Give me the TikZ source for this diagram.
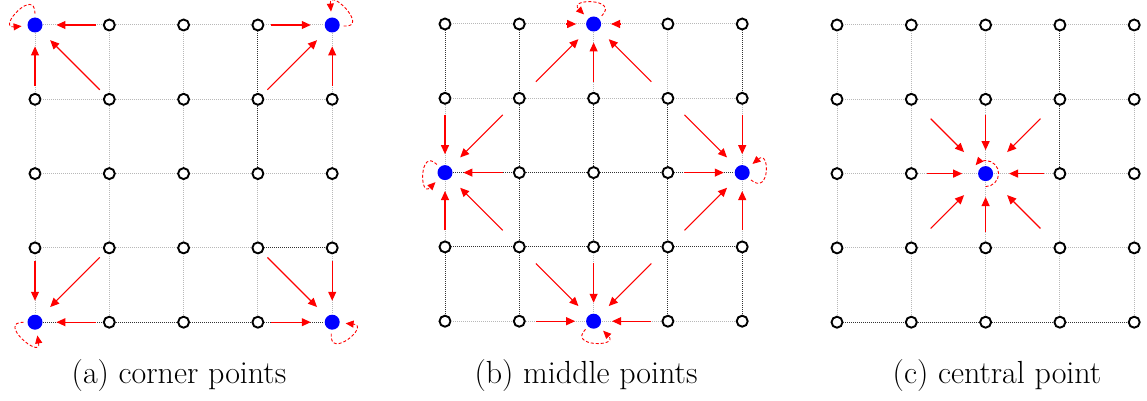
\documentclass[tikz,border=0pt]{standalone}
\usetikzlibrary{arrows.meta}

\tikzset{
  pt/.style={circle, draw=black, line width=1.9pt, fill=white, minimum size=11pt, inner sep=0pt},
  hub/.style={draw=none, fill=blue, minimum size=15pt},
  faint/.style={draw=black!28, line width=1pt, dash pattern=on 1pt off 1pt},
  dark/.style={draw=black!80, line width=1pt, dash pattern=on 1pt off 1pt},
  pull/.style={draw=red, line width=1.1pt, -{Triangle[length=9pt,width=8pt]}, shorten <=7pt, shorten >=13pt},
  selfloop/.style={draw=red, line width=0.9pt, dash pattern=on 3pt off 2pt, -{Triangle[length=8pt,width=7pt]}},
  caption/.style={anchor=base, font=\fontsize{32}{36}\selectfont},
  mk a00/.style={hub}, mk a40/.style={hub}, mk a04/.style={hub}, mk a44/.style={hub},
  mk b20/.style={hub}, mk b02/.style={hub}, mk b42/.style={hub}, mk b24/.style={hub},
  mk c22/.style={hub}
}

\begin{document}
\begin{tikzpicture}[x=1pt,y=1pt]
\useasboundingbox (0,0) rectangle (1147,-401);

% the three 5x5 lattices
\foreach \pan/\ox/\oy in {a/35/25, b/445/24, c/837/25}
  \foreach \i in {0,...,4}
    \foreach \j in {0,...,4}
      \node[pt, mk \pan\i\j/.try] (\pan\i\j) at (\ox+74.3*\i, -\oy-74.3*\j) {};

% dotted lattice lines
\foreach \pan in {a,b,c}
  \foreach \i/\k in {0/1, 1/2, 2/3, 3/4}
    \foreach \j in {0,...,4} {
      \draw[faint] (\pan\i\j) -- (\pan\k\j);
      \draw[faint] (\pan\j\i) -- (\pan\j\k);
    }
\foreach \s/\t in {a30/a31, a31/a32, a33/a43, a04/a14, a14/a24, a24/a34, a34/a44,
                   b00/b01, b03/b04, b10/b11, b11/b12, b12/b13, b13/b14,
                   b21/b22, b22/b23, b31/b32, b32/b33, b33/b34, b40/b41, b43/b44,
                   b02/b12, b12/b22, b22/b32, b32/b42, b03/b13, b13/b23, b23/b33, b33/b43,
                   c30/c31, c31/c32, c04/c14, c14/c24, c24/c34, c34/c44}
  \draw[dark] (\s) -- (\t);

% (a) corner points
\foreach \s/\t in {a10/a00, a01/a00, a11/a00, a30/a40, a41/a40, a31/a40,
                   a03/a04, a13/a04, a14/a04, a34/a44, a43/a44, a33/a44}
  \draw[pull] (\s) -- (\t);
\draw[selfloop, shorten <=3pt, shorten >=5pt] (a00) to[out=90, in=185, min distance=30pt] (a00);
\draw[selfloop, shorten <=3pt, shorten >=5pt] (a40) to[out=-5, in=95, min distance=30pt] (a40);
\draw[selfloop, shorten <=3pt, shorten >=5pt] (a04) to[out=180, in=-80, min distance=30pt] (a04);
\draw[selfloop, shorten <=3pt, shorten >=5pt] (a44) to[out=-95, in=-5, min distance=30pt] (a44);

% (b) middle points
\foreach \s/\t in {b21/b20, b01/b02, b03/b02, b12/b02, b41/b42, b43/b42, b32/b42,
                   b23/b24, b14/b24, b34/b24}
  \draw[pull, shorten <=10pt, shorten >=10pt] (\s) -- (\t);
\foreach \s/\t in {b11/b20, b31/b20, b11/b02, b13/b02, b31/b42, b33/b42, b13/b24, b33/b24}
  \draw[pull, shorten <=17pt, shorten >=13pt] (\s) -- (\t);
\foreach \s/\t in {b10/b20, b30/b20}
  \draw[pull, shorten <=40pt, shorten >=9pt] (\s) -- (\t);
\draw[selfloop, shorten <=3pt, shorten >=5pt] (b20) to[out=45, in=135, min distance=28pt] (b20);
\draw[selfloop, shorten <=3pt, shorten >=5pt] (b02) to[out=135, in=-135, min distance=28pt] (b02);
\draw[selfloop, shorten <=3pt, shorten >=5pt] (b42) to[out=-40, in=40, min distance=28pt] (b42);
\draw[selfloop, shorten <=3pt, shorten >=5pt] (b24) to[out=-135, in=-45, min distance=28pt] (b24);

% (c) central point
\foreach \s in {c21, c12, c32, c23}
  \draw[pull, shorten <=9pt, shorten >=15pt] (\s) -- (c22);
\foreach \s in {c11, c31, c13, c33}
  \draw[pull, shorten <=21pt, shorten >=22pt] (\s) -- (c22);
\draw[selfloop] ([shift={(-90:13pt)}]c22.center) arc[start angle=-90, end angle=140, radius=13pt];

% captions
\node[caption] (capa) at (179,-383) {(a) corner points};
\node[caption] (capb) at (586,-383) {(b) middle points};
\node[caption] (capc) at (997,-383) {(c) central point};
\end{tikzpicture}
\end{document}
